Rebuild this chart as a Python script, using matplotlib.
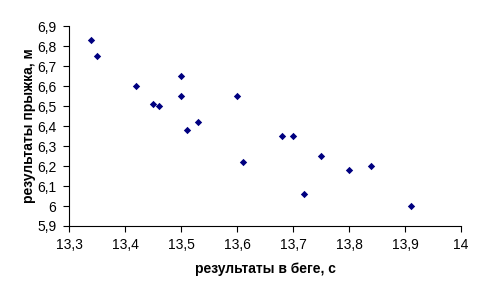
import matplotlib.pyplot as plt
import numpy as np
from matplotlib.ticker import FuncFormatter, MultipleLocator

run_time = [13.34, 13.35, 13.42, 13.45, 13.46, 13.50, 13.50, 13.51, 13.53,
            13.60, 13.61, 13.68, 13.70, 13.72, 13.75, 13.80, 13.84, 13.91]
jump_len = [6.83, 6.75, 6.60, 6.51, 6.50, 6.65, 6.55, 6.38, 6.42,
            6.55, 6.22, 6.35, 6.35, 6.06, 6.25, 6.18, 6.20, 6.00]

plt.rcParams['font.family'] = ['Liberation Sans', 'DejaVu Sans']

fig = plt.figure(figsize=(4.91, 2.96), dpi=100)
ax = fig.add_axes([0.1405, 0.2365, 0.7985, 0.6755])

ax.scatter(run_time, jump_len, marker='D', s=14, color='#000080', linewidths=0, zorder=3)

ax.set_xlim(13.3, 14.0)
ax.set_ylim(5.9, 6.9)
ax.xaxis.set_major_locator(MultipleLocator(0.1))
ax.yaxis.set_major_locator(MultipleLocator(0.1))

fmt = FuncFormatter(lambda v, pos: f"{round(v, 1):g}".replace('.', ','))
ax.xaxis.set_major_formatter(fmt)
ax.yaxis.set_major_formatter(fmt)

for side in ('top', 'right'):
    ax.spines[side].set_visible(False)
for side in ('left', 'bottom'):
    ax.spines[side].set_linewidth(0.8)
    ax.spines[side].set_color('black')

ax.tick_params(direction='out', length=4, width=0.8, labelsize=10, pad=5)

ax.set_xlabel('результаты в беге, с', fontsize=10, fontweight='bold', labelpad=7)
ax.set_ylabel('результаты прыжка, м', fontsize=10, fontweight='bold', labelpad=1)

fig.savefig('out.png', dpi=100)
